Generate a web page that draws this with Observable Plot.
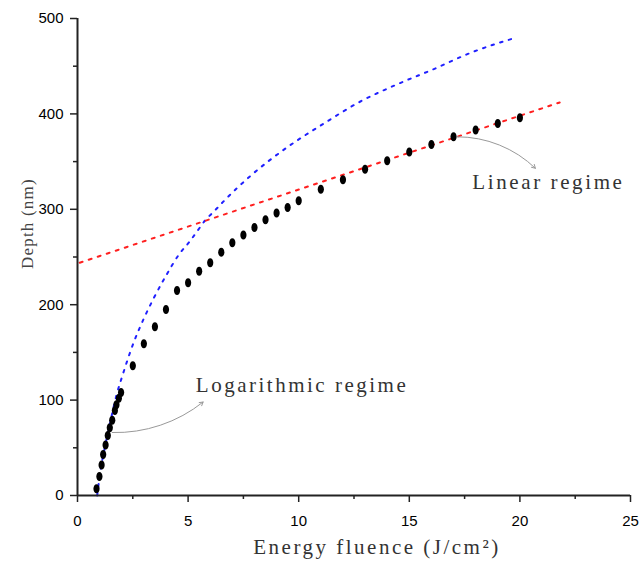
<!DOCTYPE html>
<html>
<head>
<meta charset="utf-8">
<script src="https://cdn.jsdelivr.net/npm/d3@7"></script>
<script src="https://cdn.jsdelivr.net/npm/@observablehq/plot@0.6"></script>
<style>
  body { margin: 0; background: #fff; }
</style>
</head>
<body>
<div id="chart"></div>
<script>
// Measured data (energy fluence J/cm², depth nm)
const fluence = [0.86, 0.99, 1.09, 1.16, 1.27, 1.37, 1.46, 1.57, 1.69, 1.76, 1.87, 1.97,
  2.5, 3, 3.5, 4, 4.5, 5, 5.5, 6, 6.5, 7, 7.5, 8, 8.5, 9, 9.5, 10,
  11, 12, 13, 14, 15, 16, 17, 18, 19, 20];
const depth = [7, 20, 32, 43, 53, 63, 71, 79, 89, 95, 102, 108,
  136, 159, 177, 195, 215, 223, 235, 244, 255, 265, 273, 281, 289, 296, 302, 309,
  321, 331, 342, 351, 360, 368, 376, 383, 390, 396];

// Logarithmic fit curve (blue)
const logFitX = [0.89, 1.0, 1.25, 1.5, 1.75, 2.05, 2.55, 2.97, 3.45, 3.99, 4.63, 5.03, 5.38, 5.76, 6.18, 6.59, 7.82, 9.48, 11.14, 12.79, 14.45, 16.11, 17.77, 19.83];
const logFitY = [0, 20, 52, 79, 104, 127, 161, 184, 207, 230, 254, 265, 276, 288, 298, 308, 335, 365, 390, 413, 431, 447, 464, 480];

// Linear fit line (red)
const linFitX = [0.1, 21.8];
const linFitY = [244, 412];

// Axes ticks
const xTicks = [0, 5, 10, 15, 20, 25];
const xMinor = [2.5, 7.5, 12.5, 17.5, 22.5];
const yTicks = [0, 100, 200, 300, 400, 500];
const yMinor = [50, 150, 250, 350, 450];

// Annotations
const noteText = ["Logarithmic regime", "Linear regime"];
const noteX = [5.35, 17.85];
const noteY = [116, 328];
const arrowX1 = [1.57, 17.17];
const arrowY1 = [66, 376];
const arrowX2 = [5.68, 20.7];
const arrowY2 = [98, 343];

const xTitle = "Energy fluence (J/cm²)";
const yTitle = "Depth (nm)";
const yTitleAt = 285;

const points = fluence.map((x, i) => ({x, y: depth[i]}));
const logFit = logFitX.map((x, i) => ({x, y: logFitY[i]}));
const linFit = linFitX.map((x, i) => ({x, y: linFitY[i]}));
const notes = noteText.map((t, i) => ({t, x: noteX[i], y: noteY[i]}));
const arrows = arrowX1.map((x1, i) => ({x1, y1: arrowY1[i], x2: arrowX2[i], y2: arrowY2[i]}));

const ellipse = {
  draw(ctx) {
    const rx = 3.1, ry = 4.5, k = 0.5523;
    ctx.moveTo(rx, 0);
    ctx.bezierCurveTo(rx, ry * k, rx * k, ry, 0, ry);
    ctx.bezierCurveTo(-rx * k, ry, -rx, ry * k, -rx, 0);
    ctx.bezierCurveTo(-rx, -ry * k, -rx * k, -ry, 0, -ry);
    ctx.bezierCurveTo(rx * k, -ry, rx, -ry * k, rx, 0);
    ctx.closePath();
  }
};

const serif = "'Liberation Serif', 'DejaVu Serif', serif";

const plot = Plot.plot({
  width: 640,
  height: 568,
  marginLeft: 77,
  marginRight: 10,
  marginTop: 18,
  marginBottom: 73,
  style: {background: "#fff", fontFamily: "'Liberation Sans', Arial, sans-serif", fontSize: "15px", color: "#111", overflow: "visible"},
  x: {domain: [0, 25]},
  y: {domain: [0, 500]},
  marks: [
    Plot.line(logFit, {x: "x", y: "y", curve: "monotone-x", stroke: "#2020ff", strokeWidth: 2, strokeDasharray: "2.5,6.5"}),
    Plot.line(linFit, {x: "x", y: "y", stroke: "#ff2020", strokeWidth: 2, strokeDasharray: "3,6.5"}),
    Plot.dot(points, {x: "x", y: "y", symbol: ellipse, fill: "#000", stroke: "none", r: 4}),
    Plot.arrow(arrows.slice(0, 1), {x1: "x1", y1: "y1", x2: "x2", y2: "y2", bend: -20, stroke: "#999", strokeWidth: 1, headLength: 6}),
    Plot.arrow(arrows.slice(1, 2), {x1: "x1", y1: "y1", x2: "x2", y2: "y2", bend: 22, stroke: "#999", strokeWidth: 1, headLength: 6}),
    Plot.text(notes, {x: "x", y: "y", text: "t", textAnchor: "start", fontFamily: serif, fontSize: 21, fill: "#333"}),
    Plot.ruleX([0], {stroke: "#222", strokeWidth: 2}),
    Plot.ruleY([0], {stroke: "#222", strokeWidth: 2}),
    Plot.axisX({ticks: xTicks, tickSize: 7, tickPadding: 13, label: null, stroke: "#222", strokeWidth: 1.5, fill: "#000", fontSize: 15}),
    Plot.axisX({ticks: xMinor, tickSize: 4, tickFormat: () => "", label: null, stroke: "#222", strokeWidth: 1.5}),
    Plot.axisY({ticks: yTicks, tickSize: 7, tickPadding: 7, label: null, stroke: "#222", strokeWidth: 1.5, fill: "#000", fontSize: 15}),
    Plot.axisY({ticks: yMinor, tickSize: 4, tickFormat: () => "", label: null, stroke: "#222", strokeWidth: 1.5}),
    Plot.text([xTitle], {frameAnchor: "bottom", textAnchor: "middle", dx: 23, dy: 58, fontFamily: serif, fontSize: 21, fill: "#333"}),
    Plot.text([{t: yTitle, y: yTitleAt}], {y: "y", text: "t", frameAnchor: "left", textAnchor: "middle", rotate: -90, dx: -50, fontFamily: serif, fontSize: 17, fill: "#444"})
  ]
});

// widen letter spacing to mimic the original fixed-width serif font
const spacing = new Map([[noteText[0], "2.5px"], [noteText[1], "2.6px"], [xTitle, "2.5px"], [yTitle, "1.2px"]]);
for (const t of plot.querySelectorAll("text")) {
  const s = spacing.get(t.textContent);
  if (s) t.style.letterSpacing = s;
}

document.getElementById("chart").appendChild(plot);
</script>
</body>
</html>
